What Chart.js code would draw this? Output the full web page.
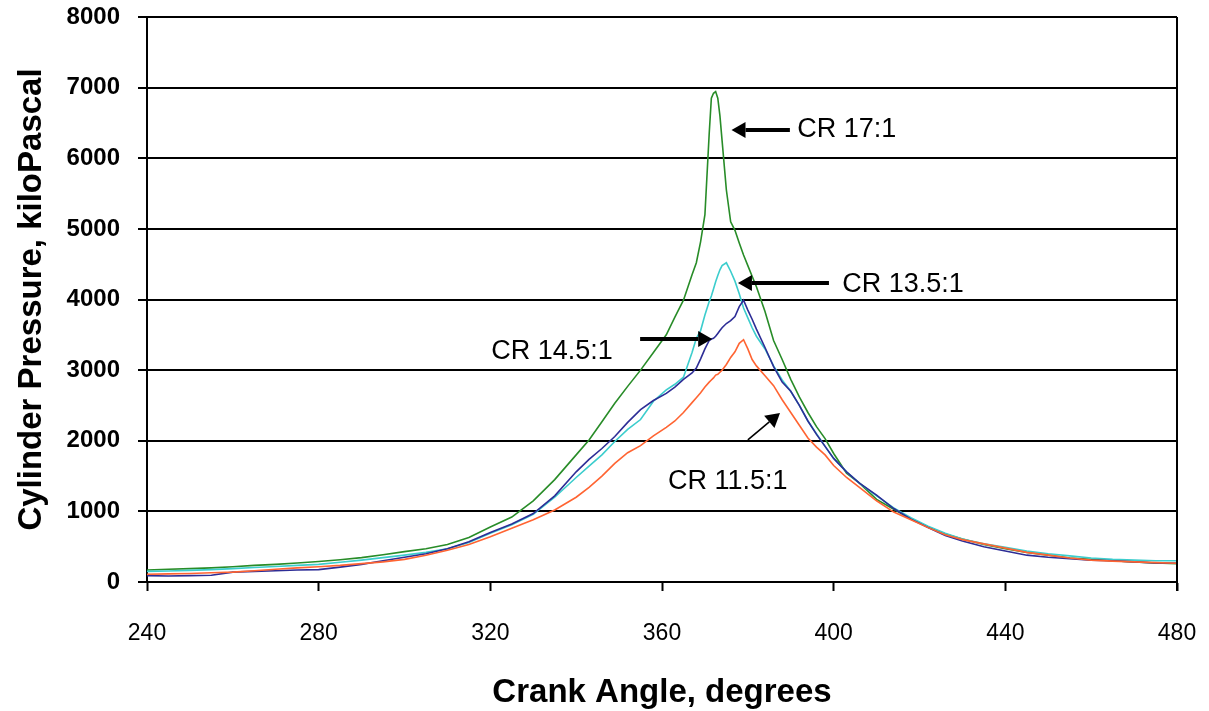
<!DOCTYPE html>
<html>
<head>
<meta charset="utf-8">
<script src="https://cdn.jsdelivr.net/npm/chart.js@4.4.1/dist/chart.umd.min.js"></script>
<style>
  html, body { margin: 0; padding: 0; background: #fff; }
  #wrap { width: 1209px; height: 711px; }
</style>
</head>
<body>
<div id="wrap"><canvas id="c" width="1209" height="711"></canvas></div>
<script>
// ---- data ----
const angles = [240,245,250,255,260,265,270,275,280,285,290,295,300,305,310,315,320,325,330,335,340,
  343,346,349,352,355,358,361,363,365,367,368,369,370,371,371.5,372,372.5,373,373.5,
  374,375,376,377,378,379,380,381,382,384,386,388,390,392,394,396,398,400,403,406,
  410,414,418,422,426,430,435,440,445,450,455,460,465,470,475,480];

const cr17 = [170,180,190,200,215,235,250,270,290,315,345,385,430,470,530,630,780,920,1150,1450,1800,
  2010,2270,2530,2770,3000,3250,3500,3750,3990,4350,4520,4820,5200,6350,6850,6920,6945,6850,6600,
  6250,5550,5100,4980,4800,4630,4480,4330,4180,3830,3420,3150,2870,2620,2400,2200,2030,1820,1540,1400,
  1170,1030,890,780,680,610,530,470,420,380,340,320,300,285,270,260];

const cr135 = [150,155,165,175,190,205,220,235,250,280,310,345,380,420,470,560,690,810,960,1200,1480,
  1640,1800,1990,2160,2300,2560,2720,2800,2900,3250,3450,3560,3780,3970,4050,4150,4250,4340,4420,
  4480,4520,4400,4260,4080,3880,3740,3600,3480,3300,3060,2860,2700,2500,2280,2100,1920,1750,1560,1400,
  1220,1050,910,790,690,610,540,490,440,400,370,340,320,310,300,300];

const cr145 = [90,85,90,95,140,150,160,170,175,210,250,300,350,400,470,570,700,820,970,1220,1560,
  1735,1890,2060,2260,2440,2570,2670,2760,2870,2960,3030,3160,3300,3420,3440,3450,3480,3520,3560,
  3600,3660,3700,3760,3900,3990,3850,3720,3580,3320,3050,2830,2700,2500,2280,2090,1920,1750,1560,1400,
  1230,1040,890,770,660,580,500,440,380,350,330,310,300,285,270,265];

const cr115 = [110,115,120,130,140,160,180,200,217,235,260,285,320,380,450,530,640,760,880,1020,1200,
  1340,1500,1680,1830,1930,2070,2190,2280,2400,2540,2610,2680,2760,2830,2860,2890,2930,2940,2970,
  3000,3080,3180,3260,3380,3430,3300,3150,3060,2920,2780,2580,2400,2220,2040,1910,1800,1650,1480,1340,
  1150,990,880,770,670,600,540,480,420,380,340,310,295,285,275,265];

const seriesNames = ["CR 17:1", "CR 13.5:1", "CR 14.5:1", "CR 11.5:1"];
const xTitle = "Crank Angle, degrees";
const yTitle = "Cylinder Pressure, kiloPascal";

// ---- annotations (data coordinates) ----
const notes = [
  { text: "CR 17:1",   tx: 391.5, ty: 6400, from: [389.8, 6400], to: [376.2, 6400], thick: true },
  { text: "CR 13.5:1", tx: 402.0, ty: 4210, from: [398.9, 4235], to: [377.7, 4235], thick: true },
  { text: "CR 14.5:1", tx: 320.2, ty: 3260, from: [354.9, 3442], to: [371.7, 3442], thick: true },
  { text: "CR 11.5:1", tx: 361.4, ty: 1416, from: [380.0, 2011], to: [387.5, 2394], thick: false }
];

function pts(vals) { return angles.map((a, i) => ({ x: a, y: vals[i] })); }

const colors = ["rgb(40,140,40)", "rgb(60,205,205)", "rgb(45,45,150)", "rgb(255,100,50)"];
const FONT = '"Liberation Sans", Arial, sans-serif';

const frame = {
  id: 'frame',
  afterDraw(chart) {
    const { ctx, chartArea: a } = chart;
    ctx.save();
    ctx.strokeStyle = '#000';
    ctx.lineWidth = 2;
    ctx.beginPath();
    ctx.moveTo(a.right, a.top);
    ctx.lineTo(a.right, a.bottom + 9);
    ctx.stroke();
    ctx.restore();
  }
};

const notesPlugin = {
  id: 'notes',
  afterDatasetsDraw(chart) {
    const { ctx, scales: { x, y } } = chart;
    ctx.save();
    ctx.fillStyle = '#000';
    ctx.strokeStyle = '#000';
    ctx.font = '27px ' + FONT;
    ctx.textBaseline = 'middle';
    ctx.textAlign = 'left';
    notes.forEach(n => {
      ctx.fillText(n.text, x.getPixelForValue(n.tx), y.getPixelForValue(n.ty));
      const x1 = x.getPixelForValue(n.from[0]), y1 = y.getPixelForValue(n.from[1]);
      const x2 = x.getPixelForValue(n.to[0]), y2 = y.getPixelForValue(n.to[1]);
      const ang = Math.atan2(y2 - y1, x2 - x1);
      const hl = 14, hw = 8;
      const bx = x2 - hl * Math.cos(ang), by = y2 - hl * Math.sin(ang);
      ctx.lineWidth = n.thick ? 4 : 1.6;
      ctx.beginPath();
      ctx.moveTo(x1, y1);
      ctx.lineTo(bx, by);
      ctx.stroke();
      ctx.beginPath();
      ctx.moveTo(x2, y2);
      ctx.lineTo(bx + hw * Math.sin(ang), by - hw * Math.cos(ang));
      ctx.lineTo(bx - hw * Math.sin(ang), by + hw * Math.cos(ang));
      ctx.closePath();
      ctx.fill();
    });
    ctx.restore();
  }
};

new Chart(document.getElementById('c'), {
  type: 'line',
  data: {
    datasets: [
      { label: seriesNames[3], data: pts(cr115), borderColor: colors[3] },
      { label: seriesNames[2], data: pts(cr145), borderColor: colors[2] },
      { label: seriesNames[1], data: pts(cr135), borderColor: colors[1] },
      { label: seriesNames[0], data: pts(cr17),  borderColor: colors[0] }
    ].map(d => Object.assign(d, { borderWidth: 1.6, pointRadius: 0, tension: 0, fill: false }))
  },
  options: {
    responsive: false,
    animation: false,
    devicePixelRatio: 1,
    layout: { padding: { left: 0, right: 32, top: 17, bottom: 0 } },
    plugins: { legend: { display: false }, tooltip: { enabled: false } },
    scales: {
      x: {
        type: 'linear', min: 240, max: 480,
        afterFit(s) { s.height = 129; s.paddingLeft = 0; s.paddingRight = 0; },
        ticks: { stepSize: 40, color: '#000', padding: 29,
          callback: v => String(v),
          font: { family: FONT, size: 23 } },
        grid: { drawOnChartArea: false, drawTicks: true, tickLength: 9, tickWidth: 2, tickColor: '#000' },
        border: { display: true, color: '#000', width: 2 },
        title: { display: true, text: xTitle, color: '#000', padding: { top: 0, bottom: 2 },
          font: { family: FONT, size: 33, weight: 'bold', lineHeight: 1 } }
      },
      y: {
        type: 'linear', min: 0, max: 8000,
        afterFit(s) { s.width = 147; s.paddingTop = 0; s.paddingBottom = 0; },
        ticks: { stepSize: 1000, color: '#000', padding: 18,
          callback: v => String(v),
          font: { family: FONT, size: 24, weight: 'bold' } },
        grid: { color: '#000', lineWidth: 2, drawTicks: true, tickLength: 9, tickColor: '#000' },
        border: { display: true, color: '#000', width: 2 },
        title: { display: true, text: yTitle, color: '#000', padding: { top: 15, bottom: 0 },
          font: { family: FONT, size: 33, weight: 'bold', lineHeight: 1 } }
      }
    }
  },
  plugins: [frame, notesPlugin]
});
</script>
</body>
</html>
